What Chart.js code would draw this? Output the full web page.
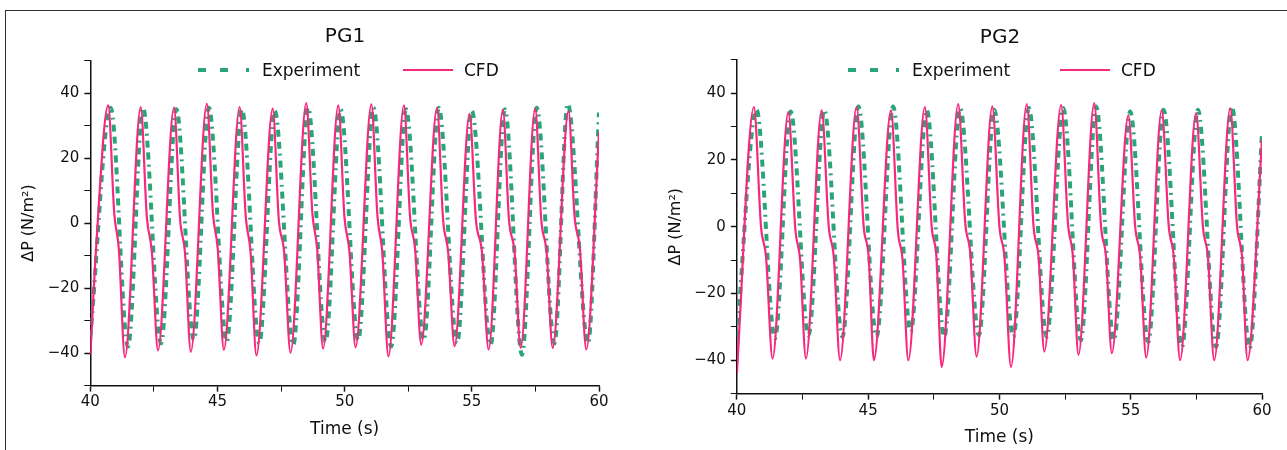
<!DOCTYPE html>
<html>
<head>
<meta charset="utf-8">
<script src="https://cdn.jsdelivr.net/npm/chart.js@4.4.0/dist/chart.umd.min.js"></script>
<style>
body { margin: 0; width: 1287px; height: 450px; background: #fff; overflow: hidden; position: relative;
  font-family: 'DejaVu Sans', sans-serif; color: #111; }
#frame { position: absolute; left: 5px; top: 10px; width: 1282px; height: 440px; border-top: 1px solid #333; border-left: 1px solid #333; }
#box1 { position: absolute; left: 6px; top: 11px; width: 634px; height: 439px; }
#box2 { position: absolute; left: 640px; top: 11px; width: 647px; height: 439px; }
.ttl { position: absolute; font-size: 20px; line-height: 24px; width: 100px; text-align: center; }
.leg { position: absolute; font-size: 17px; line-height: 20px; white-space: nowrap; }
.leg svg { position: absolute; top: 6px; }
.leg span { position: absolute; top: 0; }
</style>
</head>
<body>
<div id="frame"></div>
<div id="box1"><canvas id="pg1"></canvas></div>
<div id="box2"><canvas id="pg2"></canvas></div>
<div class="ttl" style="left:295px; top:23px">PG1</div>
<div class="ttl" style="left:950px; top:24px">PG2</div>
<div class="leg" style="left:198px; top:60px">
  <svg width="54" height="8" style="left:0"><line x1="0" y1="4" x2="54" y2="4" stroke="#28a677" stroke-width="4" stroke-dasharray="8 14 8 18 3 10"/></svg>
  <span style="left:64px">Experiment</span>
  <svg width="50" height="8" style="left:205px"><line x1="0" y1="4" x2="50" y2="4" stroke="#f8287e" stroke-width="2.2"/></svg>
  <span style="left:266px">CFD</span>
</div>
<div class="leg" style="left:848px; top:60px">
  <svg width="54" height="8" style="left:0"><line x1="0" y1="4" x2="54" y2="4" stroke="#28a677" stroke-width="4" stroke-dasharray="8 14 8 18 3 10"/></svg>
  <span style="left:64px">Experiment</span>
  <svg width="50" height="8" style="left:212px"><line x1="0" y1="4" x2="50" y2="4" stroke="#f8287e" stroke-width="2.2"/></svg>
  <span style="left:273px">CFD</span>
</div>
<script>
// PG1 (time s, dP N/m2)
var pg1CfdT = [40.00, 40.24, 40.70, 40.94, 41.12, 41.36, 41.98, 42.22, 42.42, 42.66,
  43.29, 43.53, 43.72, 43.95, 44.58, 44.82, 45.01, 45.25, 45.87, 46.11, 46.30, 46.53,
  47.17, 47.41, 47.62, 47.87, 48.49, 48.73, 48.92, 49.15, 49.75, 49.99, 50.19, 50.43,
  51.05, 51.29, 51.48, 51.72, 52.33, 52.57, 52.77, 53.01, 53.63, 53.87, 54.07, 54.32,
  54.91, 55.16, 55.40, 55.66, 56.22, 56.46, 56.68, 56.92, 57.49, 57.73, 57.94, 58.18,
  58.80, 59.04, 59.25, 59.50, 60.00]
var pg1CfdP = [-40.5, -6, 36.2, 3, -8, -41.3, 35.7, 2, -9, -39.2,
  35.5, 1, -9, -39.6, 36.7, 3, -8, -39.0, 35.7, 2, -9, -40.7,
  35.2, 1, -9, -39.9, 36.9, 3, -8, -38.6, 36.2, 2, -9, -38.2,
  36.5, 2, -9, -41.0, 36.2, 2, -8, -37.4, 35.4, 1, -9, -37.9,
  33.6, 1, -9, -38.9, 34.9, 1, -9, -38.4, 35.2, 1, -9, -38.4,
  34.4, 2, -8, -38.9, 28]
var pg1ExpT = [40.00, 40.80, 41.48, 42.07, 42.78, 43.38, 44.07, 44.66, 45.36, 45.96,
  46.64, 47.25, 47.98, 48.56, 49.25, 49.84, 50.53, 51.13, 51.83, 52.41, 53.11, 53.70,
  54.42, 55.00, 55.74, 56.30, 56.97, 57.55, 58.25, 58.77, 59.57, 60.00]
var pg1ExpP = [-35, 35.5, -38, 35.5, -37, 35, -36, 35.5, -36.5, 35,
  -37, 34.5, -37.5, 35.5, -36.5, 35, -36, 35.5, -38, 35, -36, 35.5,
  -37, 34.5, -37.5, 35, -40.5, 35.5, -37, 36.7, -37, 34]

// PG2
var pg2CfdT = [40.00, 40.65, 40.92, 41.11, 41.36, 41.96, 42.23, 42.41, 42.63,
  43.23, 43.50, 43.69, 43.93, 44.56, 44.83, 45.02, 45.22, 45.87, 46.13, 46.31, 46.53,
  47.16, 47.42, 47.60, 47.80, 48.43, 48.70, 48.89, 49.13, 49.73, 50.00, 50.19, 50.44,
  51.04, 51.30, 51.49, 51.71, 52.35, 52.61, 52.80, 53.01, 53.61, 53.87, 54.06, 54.28,
  54.91, 55.17, 55.36, 55.59, 56.18, 56.45, 56.64, 56.88, 57.49, 57.75, 57.94, 58.18,
  58.79, 59.05, 59.24, 59.45, 60.00]
var pg2CfdP = [-44, 35.8, 0, -9, -39.5, 34.3, -1, -10, -39.5,
  34.8, 0, -9, -40, 35.8, 0, -9, -40, 34.8, -1, -10, -40,
  35.8, 0, -9, -42, 36.7, 1, -8, -38.9, 36, 0, -9, -42,
  36.7, 0, -9, -37.4, 36.4, 1, -9, -38.4, 37, 0, -9, -37.9,
  33.3, 0, -9, -39.2, 34.8, 0, -9, -40, 34, 0, -9, -40,
  35.4, 0, -9, -40, 26]
var pg2ExpT = [40.00, 40.75, 41.45, 42.05, 42.73, 43.33, 44.02, 44.63, 45.32, 45.95,
  46.62, 47.23, 47.90, 48.50, 49.22, 49.80, 50.53, 51.12, 51.80, 52.43, 53.10, 53.68,
  54.36, 54.98, 55.67, 56.25, 56.95, 57.56, 58.25, 58.85, 59.53, 60.00]
var pg2ExpP = [-33, 35, -33.5, 34.5, -32.5, 35, -33, 36, -33, 36,
  -31.5, 35, -33, 35.5, -32.5, 35, -33, 35.5, -33, 35.5, -34, 36,
  -34, 34.5, -34.5, 35, -36, 35, -36, 36, -36.5, 28]

Chart.defaults.font.family = "'DejaVu Sans', sans-serif"
Chart.defaults.color = '#111'

function minus(v) {
    return v < 0 ? '\u2212' + (-v) : '' + v
}

function pts(t, p) {
    return t.map(function (x, i) { return { x: x, y: p[i] } })
}

function makeChart(id, expT, expP, cfdT, cfdP, pad) {
    var ctx = document.getElementById(id).getContext('2d')
    return new Chart(ctx, {
        type: 'line',
        data: {
            datasets: [
                {
                    label: 'CFD',
                    data: pts(cfdT, cfdP),
                    borderColor: '#f8287e',
                    borderWidth: 2.2,
                    pointRadius: 0,
                    cubicInterpolationMode: 'monotone',
                    fill: false
                },
                {
                    label: 'Experiment',
                    data: pts(expT, expP),
                    borderColor: '#28a677',
                    borderWidth: 4,
                    borderDash: [7, 5, 7, 5, 2, 5],
                    pointRadius: 0,
                    cubicInterpolationMode: 'monotone',
                    fill: false
                }
            ]
        },
        options: {
            responsive: true,
            maintainAspectRatio: false,
            animation: false,
            layout: { padding: pad.layout },
            plugins: {
                tooltip: { enabled: false },
                title: { display: false },
                legend: { display: false }
            },
            scales: {
                x: {
                    type: 'linear',
                    min: 40,
                    max: 60,
                    border: { display: true, color: '#111', width: 1.5 },
                    grid: { drawOnChartArea: false, drawTicks: true, tickLength: 6, tickColor: '#111',
                        tickWidth: function (c) { return c.tick && c.tick.value % 5 == 0 ? 1.5 : 1 } },
                    ticks: {
                        stepSize: 2.5,
                        autoSkip: false,
                        maxRotation: 0,
                        padding: pad.xTick,
                        color: '#111',
                        font: { size: 15 },
                        callback: function (v) { return v % 5 == 0 ? v : '' }
                    },
                    title: { display: true, text: 'Time (s)', color: '#111', font: { size: 17 }, padding: pad.xTitle }
                },
                y: {
                    min: -50,
                    max: 50,
                    border: { display: true, color: '#111', width: 1.5 },
                    grid: { drawOnChartArea: false, drawTicks: true, tickLength: 6, tickColor: '#111',
                        tickWidth: function (c) { return c.tick && c.tick.value % 20 == 0 ? 1.5 : 1 } },
                    ticks: {
                        stepSize: 10,
                        autoSkip: false,
                        padding: 5,
                        color: '#111',
                        font: { size: 15 },
                        callback: function (v) { return (v % 20 == 0 && Math.abs(v) < 50) ? minus(v) : '' }
                    },
                    title: { display: true, text: '\u0394P (N/m\u00b2)', color: '#111', font: { size: 16 }, padding: { top: 4, bottom: 4 } }
                }
            }
        }
    })
}

makeChart('pg1', pg1ExpT, pg1ExpP, pg1CfdT, pg1CfdP, {
    layout: { left: 9.5, right: 41, top: 49.5, bottom: 6 },
    xTick: 2,
    xTitle: { top: 6, bottom: 4 }
})
makeChart('pg2', pg2ExpT, pg2ExpP, pg2CfdT, pg2CfdP, {
    layout: { left: 22, right: 25, top: 48.7, bottom: 1 },
    xTick: 3,
    xTitle: { top: 4, bottom: 1 }
})
</script>
</body>
</html>
